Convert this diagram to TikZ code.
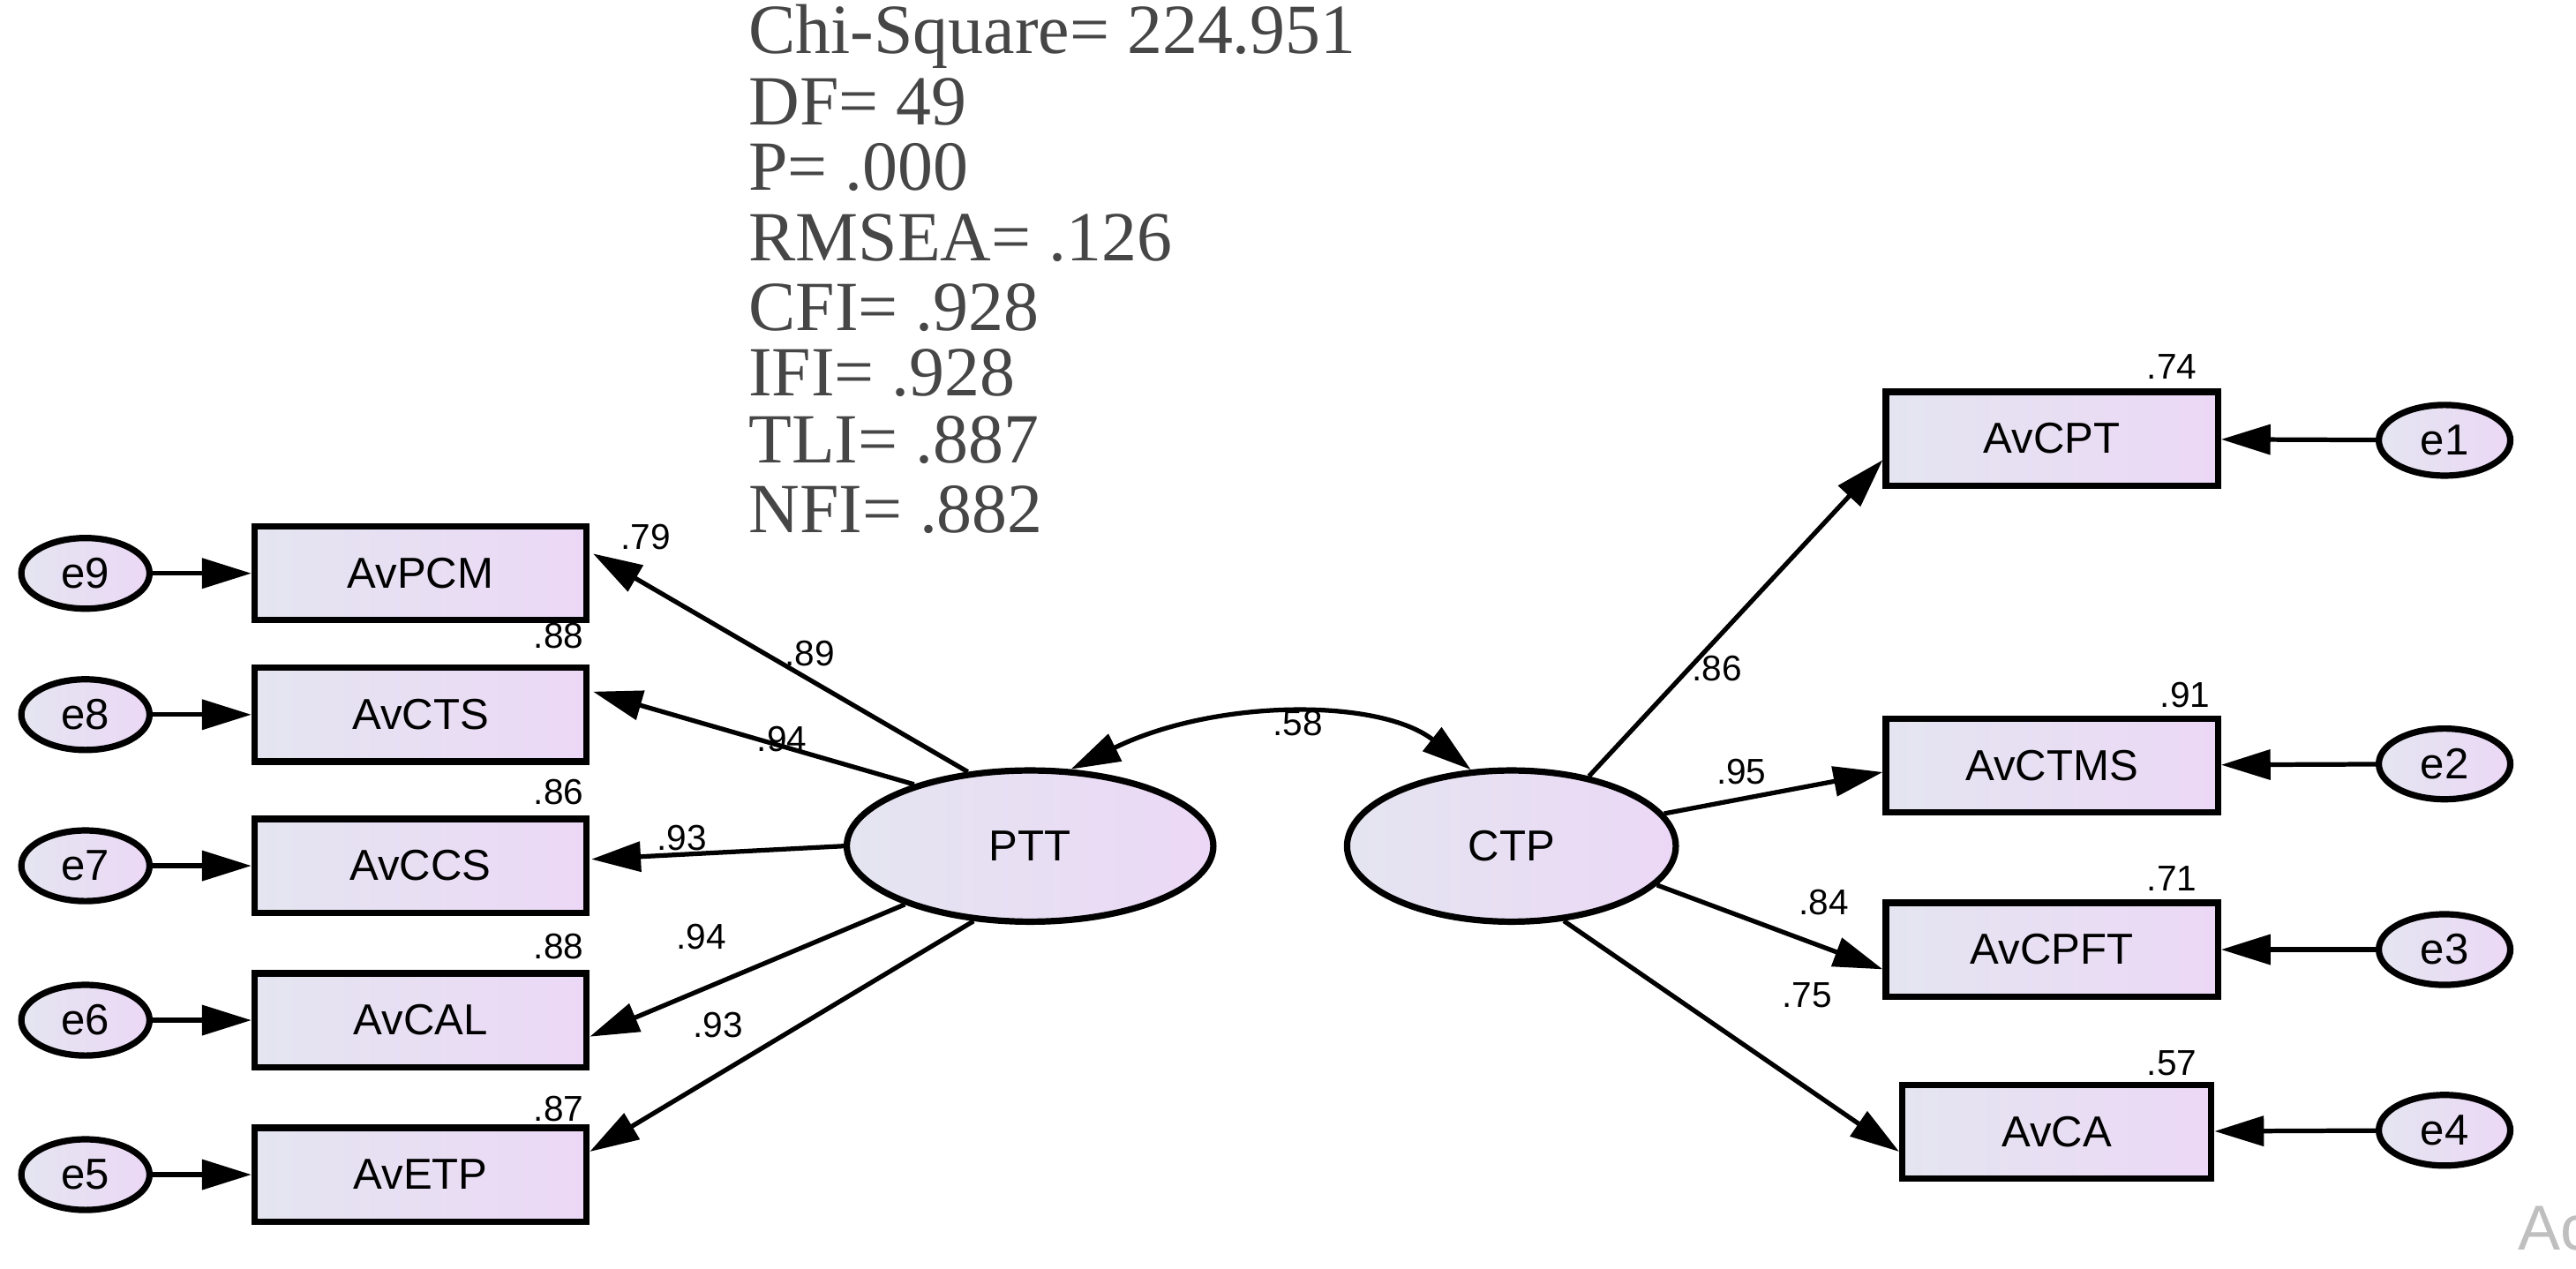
\documentclass[tikz,border=0pt]{standalone}
\usepackage{fontspec}
\setmainfont{Liberation Serif}
\newfontfamily\arialf{Liberation Sans}
\usetikzlibrary{arrows.meta,calc,shapes.geometric}
\definecolor{fillL}{RGB}{228,229,240}
\definecolor{fillR}{RGB}{236,216,246}
\definecolor{statc}{RGB}{70,70,70}
\begin{document}
\begin{tikzpicture}[x=0.01cm,y=-0.01cm,
  obs/.style={draw,line width=1.1pt,left color=fillL,right color=fillR,minimum width=2.02cm,minimum height=0.57cm,inner sep=0pt,font=\arialf\fontsize{7.5}{9}\selectfont},
  err/.style={ellipse,draw,line width=1.1pt,left color=fillL,right color=fillR,minimum width=0.78cm,minimum height=0.43cm,inner sep=0pt,font=\arialf\fontsize{7.5}{9}\selectfont},
  lat/.style={ellipse,draw,line width=1.1pt,left color=fillL,right color=fillR,inner sep=0pt,font=\arialf\fontsize{7.5}{9}\selectfont},
  num/.style={font=\arialf\fontsize{6.2}{7}\selectfont,inner sep=0pt},
  stat/.style={anchor=west,font=\fontsize{12.2}{13}\selectfont,text=statc,inner sep=0pt},
  arr/.style={line width=0.8pt,-{Triangle[length=0.3cm,width=0.18cm]}},
  earr/.style={line width=0.8pt,-{Triangle[length=0.3cm,width=0.18cm]}}]
\useasboundingbox (0,0) rectangle (1568,772);
% stats
\node[stat] (s1) at (455,22) {Chi-Square= 224.951};
\node[stat] (s2) at (455,62) {DF= 49};
\node[stat] (s3) at (455,102) {P= .000};
\node[stat] (s4) at (455,145) {RMSEA= .126};
\node[stat] (s5) at (455,187) {CFI= .928};
\node[stat] (s6) at (455,227) {IFI= .928};
\node[stat] (s7) at (455,268) {TLI= .887};
\node[stat] (s8) at (455,310) {NFI= .882};
% latent
\node[lat,minimum width=2.23cm,minimum height=0.92cm] (ptt) at (627,515) {PTT};
\node[lat,minimum width=2.0cm,minimum height=0.92cm] (ctp) at (920,515) {CTP};
% left boxes
\node[obs] (pcm) at (256,349) {AvPCM};
\node[obs] (cts) at (256,435) {AvCTS};
\node[obs] (ccs) at (256,527) {AvCCS};
\node[obs] (cal) at (256,621) {AvCAL};
\node[obs] (etp) at (256,715) {AvETP};
\node[err] (e9) at (52,349) {e9};
\node[err] (e8) at (52,435) {e8};
\node[err] (e7) at (52,527) {e7};
\node[err] (e6) at (52,621) {e6};
\node[err] (e5) at (52,715) {e5};
% right boxes
\node[obs] (cpt) at (1249,267) {AvCPT};
\node[obs] (ctms) at (1249,466) {AvCTMS};
\node[obs] (cpft) at (1249,578) {AvCPFT};
\node[obs,minimum width=1.88cm] (ca) at (1252,689) {AvCA};
\node[err,minimum width=0.8cm] (e1) at (1488,268) {e1};
\node[err,minimum width=0.8cm] (e2) at (1488,465) {e2};
\node[err,minimum width=0.8cm] (e3) at (1488,578) {e3};
\node[err,minimum width=0.8cm] (e4) at (1488,688) {e4};
% error arrows
\foreach \e/\b in {e9/pcm,e8/cts,e7/ccs,e6/cal,e5/etp,e1/cpt,e2/ctms,e3/cpft,e4/ca}
  \draw[earr] (\e) -- (\b);
% loadings left
\draw[arr] (ptt.130) -- ($(pcm.east)+(2,-12)$);
\draw[arr] (ptt.152) -- ($(cts.east)+(2,-14)$);
\draw[arr] (ptt.west) -- ($(ccs.east)+(1,-4)$);
\draw[arr] (ptt.205) -- ($(cal.east)+(0,10)$);
\draw[arr] (ptt.233) -- ($(etp.east)+(0,-14)$);
% loadings right
\draw[arr] (ctp.42) -- ($(cpt.west)+(0,13)$);
\draw[arr] (ctp.12) -- ($(ctms.west)+(0,4)$);
\draw[arr] (ctp.-15) -- ($(cpft.west)+(0,12)$);
\draw[arr] (ctp.-55) -- ($(ca.west)+(0,12)$);
% covariance
\draw[line width=0.8pt,{Triangle[length=0.3cm,width=0.18cm]}-{Triangle[length=0.3cm,width=0.18cm]}] (ptt.62) .. controls (740,425) and (840,425) .. (ctp.118);
% labels
\node[num] (l58) at (790,440) {.58};
\node[num] (l1) at (493,398) {.89};
\node[num] (l2) at (476,450) {.94};
\node[num] (l3) at (415,510) {.93};
\node[num] (l4) at (427,570) {.94};
\node[num] (l5) at (437,624) {.93};
\node[num] (r1) at (393,327) {.79};
\node[num] (r2) at (340,387) {.88};
\node[num] (r3) at (340,482) {.86};
\node[num] (r4) at (340,576) {.88};
\node[num] (r5) at (340,675) {.87};
\node[num] (m1) at (1045,407) {.86};
\node[num] (m2) at (1060,470) {.95};
\node[num] (m3) at (1110,549) {.84};
\node[num] (m4) at (1100,606) {.75};
\node[num] (q1) at (1322,223) {.74};
\node[num] (q2) at (1330,423) {.91};
\node[num] (q3) at (1322,535) {.71};
\node[num] (q4) at (1322,647) {.57};
\node[anchor=west,inner sep=0pt,text=gray!50,font=\arialf\fontsize{11}{12}\selectfont] (ac) at (1532,748) {Ac};
\end{tikzpicture}
\end{document}
